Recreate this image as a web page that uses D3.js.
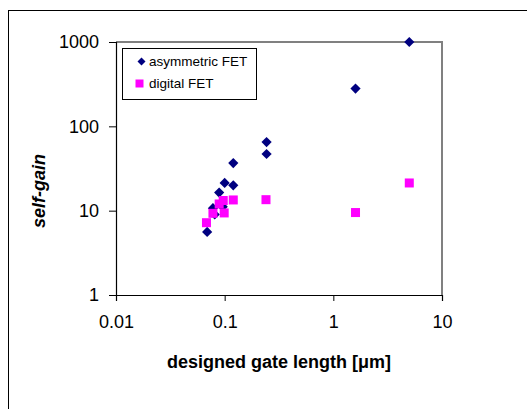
<!DOCTYPE html>
<html>
<head>
<meta charset="utf-8">
<script src="https://cdn.jsdelivr.net/npm/d3@7"></script>
<style>
  html, body { margin: 0; padding: 0; background: #fff; }
  svg { display: block; font-family: "Liberation Sans", Arial, sans-serif; }
</style>
</head>
<body>
<svg id="chart" width="527" height="409"></svg>
<script>
// ---- data ----
const asymX = [0.069, 0.078, 0.081, 0.089, 0.096, 0.100, 0.120, 0.120, 0.243, 0.243, 1.60, 5.0];
const asymY = [5.6, 10.7, 9.0, 16.4, 11.1, 21.3, 20.0, 36.7, 47.0, 65.0, 280, 1000];
const digX = [0.068, 0.078, 0.089, 0.099, 0.097, 0.120, 0.240, 1.60, 5.0];
const digY = [7.2, 9.3, 12.0, 9.4, 13.2, 13.4, 13.5, 9.5, 21.3];
const xTicks = [0.01, 0.1, 1, 10];
const xTickLabels = ["0.01", "0.1", "1", "10"];
const yTicks = [1, 10, 100, 1000];
const yTickLabels = ["1", "10", "100", "1000"];
const seriesNames = ["asymmetric FET", "digital FET"];
const seriesColors = ["#000080", "#FF00FF"];

const svg = d3.select("#chart");

// outer chart border (extends beyond canvas at right/bottom)
svg.append("rect").attr("x", 8.5).attr("y", 10.5).attr("width", 700).attr("height", 600)
  .attr("fill", "none").attr("stroke", "#000").attr("stroke-width", 1);

const x = d3.scaleLog().domain([0.01, 10]).range([116, 442]);
const y = d3.scaleLog().domain([1, 1000]).range([295, 42]);

// plot area border (gray top/right)
svg.append("path")
  .attr("d", `M${x(0.01)},${y(1000)}H${x(10)}V${y(1)}`)
  .attr("fill", "none").attr("stroke", "#808080").attr("stroke-width", 2);

// axes
const xAxis = d3.axisBottom(x).tickValues(xTicks).tickFormat((d, i) => xTickLabels[i]).tickSizeOuter(0).tickSize(6).tickPadding(14);
const yAxis = d3.axisLeft(y).tickValues(yTicks).tickFormat((d, i) => yTickLabels[i]).tickSizeOuter(0).tickSize(7).tickPadding(10);

const gx = svg.append("g").attr("transform", `translate(0,${y(1)})`).call(xAxis);
const gy = svg.append("g").attr("transform", `translate(${x(0.01)},0)`).call(yAxis);
[gx, gy].forEach(g => {
  g.select(".domain").attr("stroke", "#000").attr("stroke-width", 1.2);
  g.selectAll(".tick line").attr("stroke", "#000");
  g.selectAll(".tick text").attr("fill", "#000").attr("font-size", 18)
    .attr("font-family", "'Liberation Sans', Arial, sans-serif");
});

// axis titles
svg.append("text").attr("x", (x(0.01) + x(10)) / 2).attr("y", 368)
  .attr("text-anchor", "middle").attr("font-size", 18).attr("font-weight", "bold")
  .text("designed gate length [μm]");
svg.append("text").attr("transform", "translate(45,191) rotate(-90)")
  .attr("text-anchor", "middle").attr("font-size", 18).attr("font-weight", "bold")
  .attr("font-style", "italic").text("self-gain");

// points
const asym = asymX.map((v, i) => ({ x: v, y: asymY[i] }));
const dig = digX.map((v, i) => ({ x: v, y: digY[i] }));

svg.append("g").selectAll("path").data(asym).join("path")
  .attr("transform", d => `translate(${x(d.x)},${y(d.y)}) rotate(45)`)
  .attr("d", d3.symbol().type(d3.symbolSquare).size(52)())
  .attr("fill", seriesColors[0]);

svg.append("g").selectAll("rect").data(dig).join("rect")
  .attr("x", d => x(d.x) - 4.5).attr("y", d => y(d.y) - 4.5)
  .attr("width", 9).attr("height", 9)
  .attr("fill", seriesColors[1]);

// legend
const lg = svg.append("g");
lg.append("rect").attr("x", 122.5).attr("y", 48.5).attr("width", 134).attr("height", 51)
  .attr("fill", "#fff").attr("stroke", "#000").attr("stroke-width", 1);
lg.append("path").attr("transform", "translate(141.5,61.5) rotate(45)")
  .attr("d", d3.symbol().type(d3.symbolSquare).size(32)()).attr("fill", seriesColors[0]);
lg.append("rect").attr("x", 135.5).attr("y", 79.5).attr("width", 8).attr("height", 8).attr("fill", seriesColors[1]);
lg.append("text").attr("x", 149).attr("y", 66).attr("font-size", 13.5).text(seriesNames[0]);
lg.append("text").attr("x", 149).attr("y", 88).attr("font-size", 13.5).text(seriesNames[1]);
</script>
</body>
</html>
